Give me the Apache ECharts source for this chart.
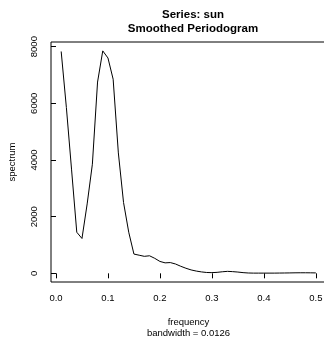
<!DOCTYPE html>
<html>
<head>
<meta charset="utf-8">
<script src="https://cdn.jsdelivr.net/npm/echarts@6/dist/echarts.min.js"></script>
<style>
html,body{margin:0;padding:0;background:#fff;}
#c{width:324px;height:338px;}
</style>
</head>
<body>
<div id="c"></div>
<script>
const frequency = [0.01,0.02,0.03,0.04,0.05,0.06,0.07,0.08,0.09,0.10,
  0.11,0.12,0.13,0.14,0.15,0.16,0.17,0.18,0.19,0.20,
  0.21,0.22,0.23,0.24,0.25,0.26,0.27,0.28,0.29,0.30,
  0.31,0.32,0.33,0.34,0.35,0.36,0.37,0.38,0.39,0.40,
  0.41,0.42,0.43,0.44,0.45,0.46,0.47,0.48,0.49,0.50];
const spectrum = [7830,5850,3650,1450,1230,2450,3850,6750,7850,7600,
  6850,4250,2500,1450,680,640,600,620,530,420,
  370,380,330,250,180,120,80,50,30,25,
  35,55,70,60,45,25,12,8,8,8,
  8,8,10,12,15,18,20,20,18,15];
const xTicks = [0.0,0.1,0.2,0.3,0.4,0.5];
const yTicks = [0,2000,4000,6000,8000];
const titleLines = ['Series: sun','Smoothed Periodogram'];
const xName = ['frequency','bandwidth = 0.0126'];
const yName = 'spectrum';

const FONT = '"Liberation Sans", Arial, Helvetica, sans-serif';
const chart = echarts.init(document.getElementById('c'), null, {renderer:'canvas'});
chart.setOption({
  backgroundColor:'#ffffff',
  animation:false,
  title:{
    text: titleLines.join('\n'),
    left: 188, top: 3, textAlign:'center',
    textStyle:{fontFamily:FONT,fontSize:11.5,fontWeight:'bold',color:'#000',lineHeight:14}
  },
  grid:{left:51, right:-2, top:42, bottom:56, show:true, borderColor:'#000', borderWidth:1,
    containLabel:false, outerBoundsMode:'none'},
  xAxis:{
    type:'value', min:-0.0096, max:0.5196,
    name: xName.join('\n'), nameLocation:'middle', nameGap:35,
    nameTextStyle:{fontFamily:FONT,fontSize:9.5,color:'#000',lineHeight:11},
    axisLine:{show:false},
    splitLine:{show:false},
    axisTick:{show:true,inside:false,length:5,lineStyle:{color:'#000',width:1},customValues:xTicks},
    axisLabel:{show:true,margin:11,fontFamily:FONT,fontSize:9.5,color:'#000',customValues:xTicks,
      formatter:v=>Number(v).toFixed(1)}
  },
  yAxis:{
    type:'value', min:-305.7, max:8163.7,
    name: yName, nameLocation:'middle', nameGap:34, nameRotate:90,
    nameTextStyle:{fontFamily:FONT,fontSize:9.5,color:'#000'},
    axisLine:{show:false},
    splitLine:{show:false},
    axisTick:{show:true,inside:false,length:5,lineStyle:{color:'#000',width:1},customValues:yTicks},
    axisLabel:{show:true,rotate:90,margin:12,fontFamily:FONT,fontSize:9.5,color:'#000',customValues:yTicks,
      formatter:v=>String(Math.round(v))}
  },
  series:[{
    type:'line',
    data: frequency.map((f,i)=>[f,spectrum[i]]),
    showSymbol:false, symbol:'none',
    lineStyle:{color:'#000',width:1},
    clip:true
  }]
});
</script>
</body>
</html>
